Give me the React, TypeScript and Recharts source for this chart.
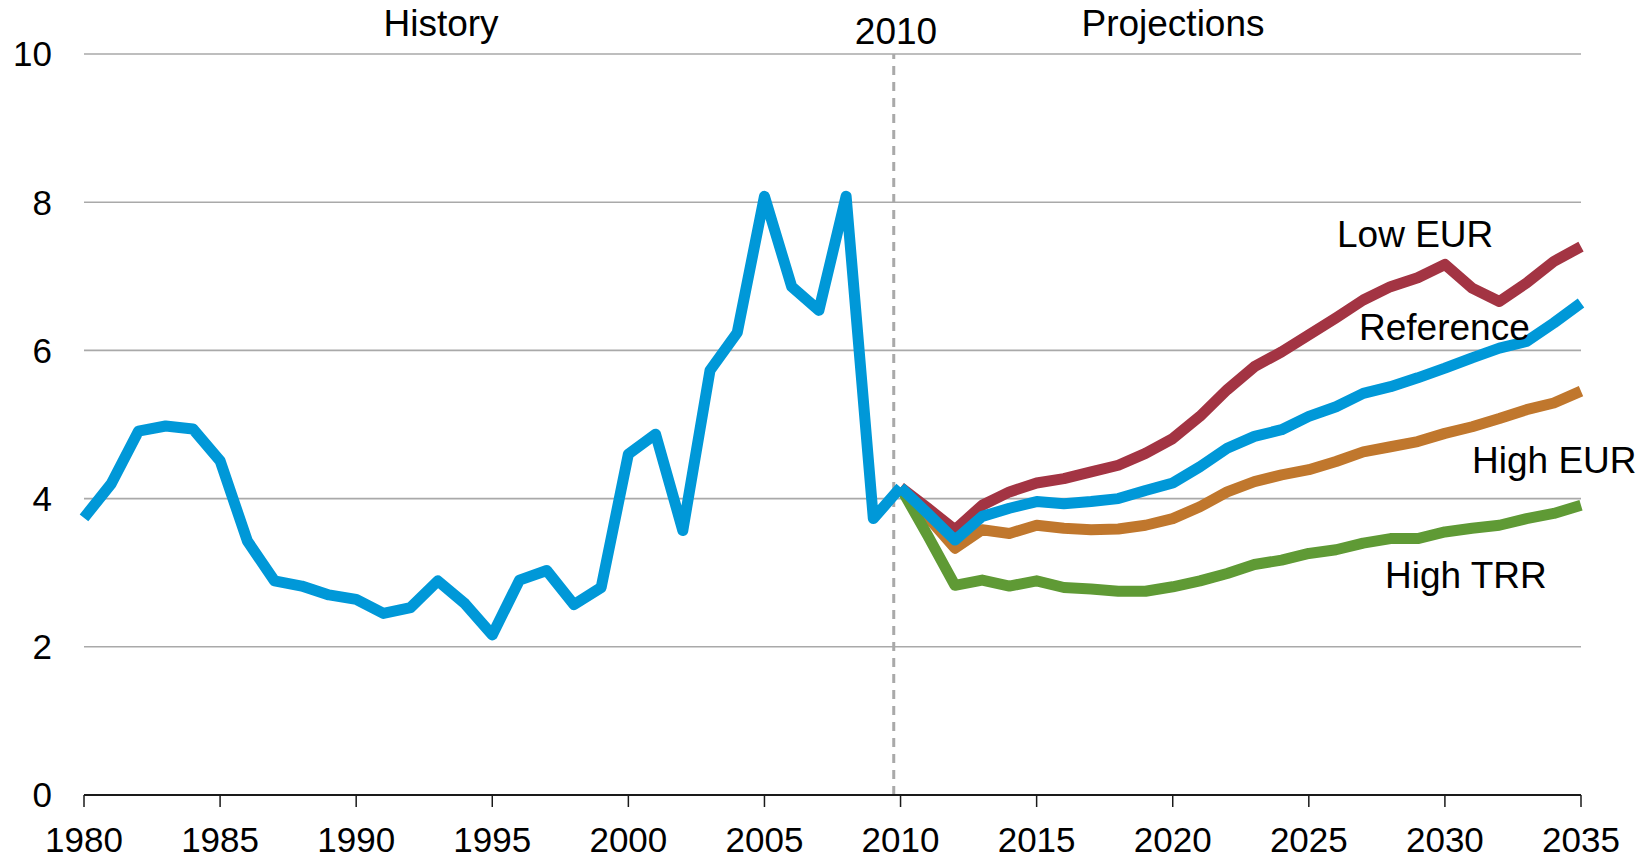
import React from "react";
import { LineChart, Line, XAxis, YAxis, CartesianGrid, ReferenceLine } from "recharts";

const historyYears: number[] = Array.from({ length: 31 }, (_, i) => 1980 + i);
const historyValues: number[] = [
  3.74, 4.2, 4.91, 4.98, 4.94, 4.51, 3.43, 2.89, 2.82, 2.7, 2.64, 2.45, 2.53, 2.89, 2.58, 2.16,
  2.9, 3.03, 2.57, 2.8, 4.6, 4.87, 3.57, 5.73, 6.24, 8.08, 6.86, 6.54, 8.08, 3.73, 4.15,
];

const projectionYears: number[] = Array.from({ length: 26 }, (_, i) => 2010 + i);
const referenceValues: number[] = [
  4.15, 3.8, 3.44, 3.76, 3.87, 3.96, 3.93, 3.96, 4.0, 4.11, 4.21, 4.43, 4.68, 4.84, 4.93, 5.11,
  5.24, 5.42, 5.51, 5.63, 5.76, 5.9, 6.03, 6.12, 6.37, 6.64,
];
const lowEURValues: number[] = [
  4.15, 3.87, 3.58, 3.91, 4.09, 4.21, 4.27, 4.36, 4.45, 4.61, 4.81, 5.11, 5.47, 5.78, 5.98, 6.21,
  6.44, 6.68, 6.86, 6.98, 7.16, 6.84, 6.66, 6.91, 7.2, 7.4,
];
const highEURValues: number[] = [
  4.15, 3.75, 3.33, 3.58, 3.53, 3.64, 3.6, 3.58, 3.59, 3.64, 3.73, 3.89, 4.09, 4.23, 4.32, 4.39,
  4.5, 4.63, 4.7, 4.77, 4.88, 4.97, 5.08, 5.2, 5.29, 5.45,
];
const highTRRValues: number[] = [
  4.15, 3.5, 2.83, 2.9, 2.82, 2.89, 2.8, 2.78, 2.75, 2.75, 2.81, 2.89, 2.99, 3.11, 3.17, 3.26,
  3.31, 3.4, 3.46, 3.46, 3.55, 3.6, 3.64, 3.73, 3.8, 3.91,
];

const xTicks: number[] = [1980, 1985, 1990, 1995, 2000, 2005, 2010, 2015, 2020, 2025, 2030, 2035];
const yTicks: number[] = [0, 2, 4, 6, 8, 10];

type Row = {
  year: number;
  history?: number;
  reference?: number;
  lowEUR?: number;
  highEUR?: number;
  highTRR?: number;
};

const allYears: number[] = Array.from({ length: 56 }, (_, i) => 1980 + i);
const data: Row[] = allYears.map((year) => {
  const row: Row = { year };
  const hi = historyYears.indexOf(year);
  if (hi >= 0) row.history = historyValues[hi];
  const pi = projectionYears.indexOf(year);
  if (pi >= 0) {
    row.reference = referenceValues[pi];
    row.lowEUR = lowEURValues[pi];
    row.highEUR = highEURValues[pi];
    row.highTRR = highTRRValues[pi];
  }
  return row;
});

const FONT = "'Liberation Sans', Arial, Helvetica, sans-serif";
const BLUE = "#0098d8";
const RED = "#a33443";
const ORANGE = "#c0772d";
const GREEN = "#5f9a35";
const GRID = "#a9a9a9";
const LW = 11;

const W = 1650;
const H = 857;

export default function App() {
  return (
    <div style={{ position: "absolute", left: 0, top: 0, width: W, height: H, background: "#fff" }}>
      <LineChart
        width={W}
        height={H}
        data={data}
        margin={{ top: 54, right: 69, bottom: 0, left: 0 }}
      >
        <CartesianGrid horizontal={true} vertical={false} stroke={GRID} strokeWidth={1.6} />
        <XAxis
          dataKey="year"
          type="number"
          domain={[1980, 2035]}
          ticks={xTicks}
          interval={0}
          height={62}
          tickSize={12}
          tickMargin={20}
          axisLine={{ stroke: "#1a1a1a", strokeWidth: 2 }}
          tickLine={{ stroke: "#1a1a1a", strokeWidth: 1.5 }}
          tick={{ fill: "#000", fontSize: 35, fontFamily: FONT }}
        />
        <YAxis
          type="number"
          domain={[0, 10]}
          ticks={yTicks}
          width={84}
          axisLine={false}
          tickLine={false}
          tickSize={0}
          tickMargin={32}
          tick={{ fill: "#000", fontSize: 35, fontFamily: FONT }}
        />
        <ReferenceLine x={2009.75} stroke={GRID} strokeWidth={3} strokeDasharray="9 7" />
        <Line type="linear" dataKey="lowEUR" stroke={RED} strokeWidth={LW} dot={false} strokeLinejoin="round" isAnimationActive={false} />
        <Line type="linear" dataKey="highEUR" stroke={ORANGE} strokeWidth={LW} dot={false} strokeLinejoin="round" isAnimationActive={false} />
        <Line type="linear" dataKey="highTRR" stroke={GREEN} strokeWidth={LW} dot={false} strokeLinejoin="round" isAnimationActive={false} />
        <Line type="linear" dataKey="history" stroke={BLUE} strokeWidth={LW} dot={false} strokeLinejoin="round" isAnimationActive={false} />
        <Line type="linear" dataKey="reference" stroke={BLUE} strokeWidth={LW} dot={false} strokeLinejoin="round" isAnimationActive={false} />
      </LineChart>
      <svg
        width={W}
        height={H}
        style={{ position: "absolute", left: 0, top: 0, pointerEvents: "none" }}
        fontFamily={FONT}
        fontSize={37}
        fill="#000"
      >
        <text x={441} y={36} textAnchor="middle">History</text>
        <text x={896} y={44} textAnchor="middle">2010</text>
        <text x={1173} y={36} textAnchor="middle">Projections</text>
        <text x={1337} y={247}>Low EUR</text>
        <text x={1359} y={340}>Reference</text>
        <text x={1472} y={473}>High EUR</text>
        <text x={1385} y={588}>High TRR</text>
      </svg>
    </div>
  );
}
